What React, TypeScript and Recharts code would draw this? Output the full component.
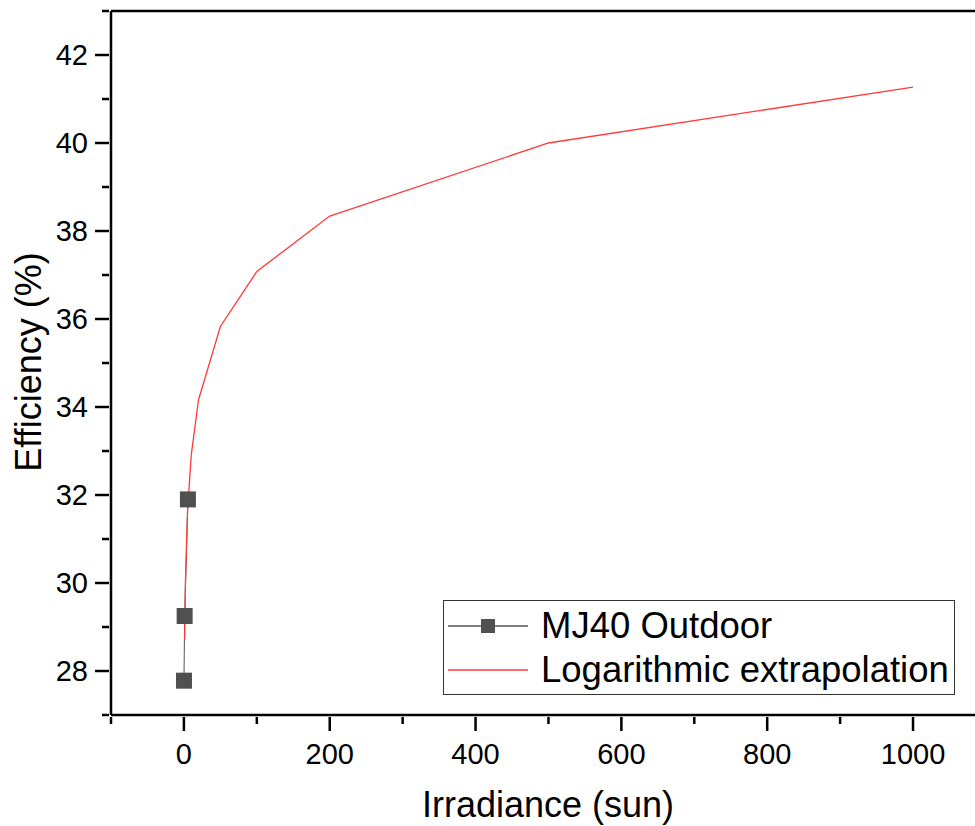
import React from "react";
import { ComposedChart, Line, XAxis, YAxis, ReferenceLine, Label } from "recharts";

// measured outdoor points (irradiance in suns, efficiency in %)
const mjIrradiance = [0.1, 1, 5.5];
const mjEfficiency = [27.78, 29.25, 31.9];

// log fit curve
const logIrradiance = [1, 2, 5, 10, 20, 50, 100, 200, 500, 1000];
const logEfficiency = [28.72, 29.98, 31.64, 32.9, 34.16, 35.83, 37.08, 38.34, 40.0, 41.27];

const xTicks = [-100, 0, 100, 200, 300, 400, 500, 600, 700, 800, 900, 1000];
const yTicks = [27, 28, 29, 30, 31, 32, 33, 34, 35, 36, 37, 38, 39, 40, 41, 42, 43];

const seriesNames = ["MJ40 Outdoor", "Logarithmic extrapolation"];
const seriesColors = ["#555555", "#ff3b3b"];

const mjData = mjIrradiance.map((x, i) => ({ x, y: mjEfficiency[i] }));
const logData = logIrradiance.map((x, i) => ({ x, y: logEfficiency[i] }));

const font = "'Liberation Sans', Arial, sans-serif";
const axisStroke = { stroke: "#000", strokeWidth: 2.5 };

function XTick(props: any) {
  const { x, y, payload } = props;
  const major = payload.value % 200 === 0;
  return (
    <g>
      <line x1={x} x2={x} y1={y} y2={y + (major ? 14 : 7)} stroke="#000" strokeWidth={2.5} />
      {major && (
        <text x={x} y={y + 47} textAnchor="middle" fontSize={29} fontFamily={font} fill="#000">
          {payload.value}
        </text>
      )}
    </g>
  );
}

function YTick(props: any) {
  const { x, y, payload } = props;
  const major = payload.value % 2 === 0;
  return (
    <g>
      <line x1={x} x2={x - (major ? 14 : 7)} y1={y} y2={y} stroke="#000" strokeWidth={2.5} />
      {major && (
        <text x={x - 21} y={y + 10} textAnchor="end" fontSize={29} fontFamily={font} fill="#000">
          {payload.value}
        </text>
      )}
    </g>
  );
}

function Square(props: any) {
  const { cx, cy, index } = props;
  return <rect key={index} x={cx - 8} y={cy - 8} width={16} height={16} fill="#505050" />;
}

function LegendBox() {
  return (
    <div
      style={{
        position: "absolute",
        left: 443,
        top: 600,
        width: 512,
        height: 95,
        boxSizing: "border-box",
        border: "1.5px solid #333",
        background: "#fff",
        paddingTop: 3,
        fontFamily: font,
        fontSize: 36.5,
        color: "#000",
      }}
    >
      {seriesNames.map((name, i) => (
        <div key={name} style={{ display: "flex", alignItems: "center", height: 44, whiteSpace: "nowrap" }}>
          <svg width={97} height={20} style={{ flex: "none" }}>
            <line x1={4} x2={84} y1={10} y2={10} stroke={seriesColors[i]} strokeWidth={1.3} />
            {i === 0 && <rect x={37} y={3} width={14} height={14} fill="#505050" />}
          </svg>
          <span>{name}</span>
        </div>
      ))}
    </div>
  );
}

export default function App() {
  return (
    <div style={{ position: "absolute", left: 0, top: 0, width: 975, height: 826, overflow: "hidden", background: "#fff" }}>
      <ComposedChart width={975} height={826} margin={{ top: 11, right: 0, bottom: 0, left: 0 }}>
        <XAxis
          type="number"
          dataKey="x"
          domain={[-100, 1085]}
          allowDataOverflow
          ticks={xTicks}
          interval={0}
          height={111}
          tickSize={0}
          tickLine={false}
          tick={<XTick />}
          axisLine={axisStroke}
        >
          <Label
            content={() => (
              <text x={548} y={817} textAnchor="middle" fontSize={36} fontFamily={font} fill="#000">
                Irradiance (sun)
              </text>
            )}
          />
        </XAxis>
        <YAxis
          type="number"
          domain={[27, 43]}
          allowDataOverflow
          ticks={yTicks}
          interval={0}
          width={111}
          tickSize={0}
          tickLine={false}
          tick={<YTick />}
          axisLine={axisStroke}
        >
          <Label
            content={() => (
              <text
                x={41}
                y={362}
                transform="rotate(-90, 41, 362)"
                textAnchor="middle"
                fontSize={36}
                fontFamily={font}
                fill="#000"
              >
                Efficiency (%)
              </text>
            )}
          />
        </YAxis>
        <ReferenceLine y={43} stroke="#000" strokeWidth={2.5} />
        <Line
          data={mjData}
          dataKey="y"
          name={seriesNames[0]}
          type="linear"
          stroke={seriesColors[0]}
          strokeWidth={1}
          dot={<Square />}
          activeDot={false}
          isAnimationActive={false}
        />
        <Line
          data={logData}
          dataKey="y"
          name={seriesNames[1]}
          type="linear"
          stroke={seriesColors[1]}
          strokeWidth={1.3}
          dot={false}
          activeDot={false}
          isAnimationActive={false}
        />
      </ComposedChart>
      <LegendBox />
    </div>
  );
}
